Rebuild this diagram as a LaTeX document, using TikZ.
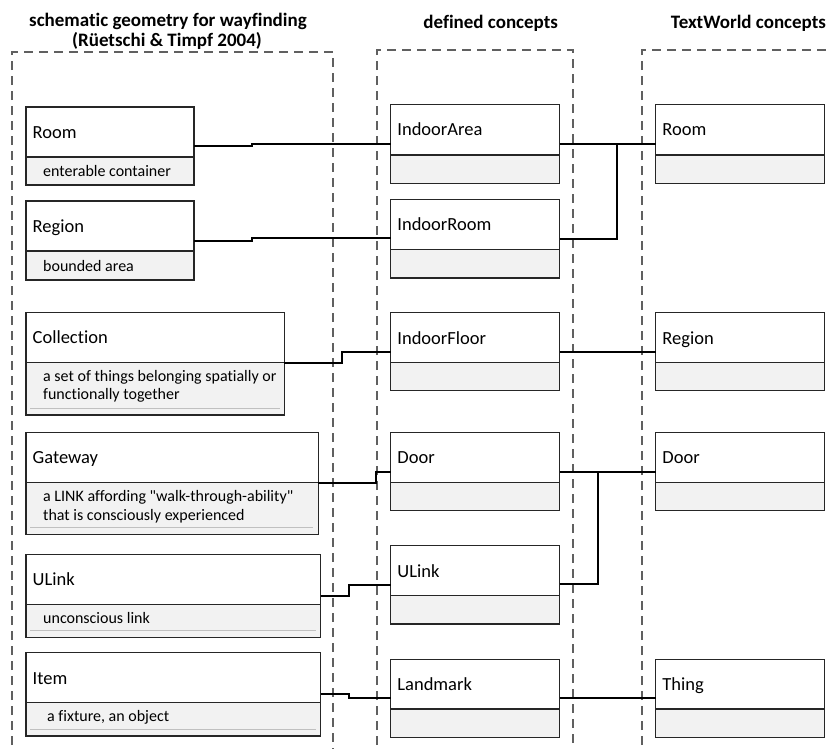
\documentclass[tikz,border=0pt]{standalone}
\usepackage{fontspec}
\setmainfont{Carlito}[Ligatures=NoCommon]
\newfontfamily\plainfont{Carlito}[Ligatures=NoCommon]
\usetikzlibrary{fit}
\definecolor{compfill}{HTML}{F2F2F2}
\definecolor{boxcol}{HTML}{262626}
\definecolor{dashcol}{HTML}{606060}
\definecolor{sepcol}{HTML}{C0C0C0}
\tikzset{
  boxline/.style={draw=boxcol, line width=1.4pt},
  conn/.style={draw=black, line width=1.7pt},
  groupline/.style={draw=dashcol, line width=1.3pt, dash pattern=on 9pt off 6pt},
  titletext/.style={font=\fontsize{18.5}{22}\selectfont, inner sep=0pt, anchor=base west},
  desctext/.style={font=\plainfont\fontsize{16}{20}\selectfont, inner sep=0pt, anchor=base west},
  headtext/.style={font=\bfseries\fontsize{19}{23}\selectfont, inner sep=1pt, anchor=base},
  sepline/.style={draw=sepcol, line width=0.6pt}
}
% name, x1, y1, x2, ydiv, y2, title
\newcommand\umlbox[7]{%
  \fill[compfill] (#2,#5) rectangle (#4,#6);
  \draw[boxline] (#2,#5) -- (#4,#5);
  \node[boxline, inner sep=0pt, outer sep=0pt, fit={(#2,#3) (#4,#6)}] (#1) {};
  \node[titletext] (#1-t) at (#2+6.5, {(#3+#5)/2+6.3}) {#7};
}
\begin{document}
\begin{tikzpicture}[x=1pt, y=-1pt]
\useasboundingbox (0,0) rectangle (829,748);
% group frames
\draw[groupline] (12,760) -- (12,52) -- (333,52) -- (333,760);
\draw[groupline] (377,760) -- (377,50) -- (573,50) -- (573,760);
\draw[groupline] (642,760) -- (642,50) -- (845,50);
% headers
\node[headtext] (h1a) at (168,26) {schematic geometry for wayfinding};
\node[headtext, fill=white] (h1b) at (167,46.5) {(Rüetschi \& Timpf 2004)};
\node[headtext] (h2) at (490.7,28.3) {defined concepts};
\node[headtext] (h3) at (748.5,28.3) {TextWorld concepts};
% left column
\umlbox{lroom}{26}{107}{194}{157}{185}{Room}
\node[desctext] (lroom-d) at (43,176) {enterable container};
\umlbox{lregion}{26}{201}{194}{251}{280}{Region}
\node[desctext] (lregion-d) at (43,271) {bounded area};
\umlbox{lcoll}{26}{312.7}{284.3}{362.3}{415}{Collection}
\draw[sepline] (30,408) -- (280,408);
\node[desctext] (lcoll-d1) at (43,381.7) {a set of things belonging spatially or};
\node[desctext] (lcoll-d2) at (43,399.3) {functionally together};
\umlbox{lgate}{26}{432.3}{318.3}{482.7}{534.3}{Gateway}
\draw[sepline] (30,527.5) -- (313,527.5);
\node[desctext] (lgate-d1) at (43,501.7) {a LINK affording "walk-through-ability"};
\node[desctext] (lgate-d2) at (43,520) {that is consciously experienced};
\umlbox{lulink}{26}{554.3}{320.7}{604.3}{637.3}{ULink}
\draw[sepline] (30,630) -- (316,630);
\node[desctext] (lulink-d) at (43,623.3) {unconscious link};
\umlbox{litem}{26}{652.7}{320.7}{702.7}{736}{Item}
\draw[sepline] (30,729) -- (316,729);
\node[desctext] (litem-d) at (47,721.7) {a fixture, an object};
% middle column
\umlbox{marea}{390.7}{104.3}{559.5}{155}{183.3}{IndoorArea}
\umlbox{mroom}{390.7}{199.3}{559.5}{249.3}{278}{IndoorRoom}
\umlbox{mfloor}{390.7}{312.7}{559.5}{362.7}{390.7}{IndoorFloor}
\umlbox{mdoor}{390.7}{432.7}{559.5}{482.3}{510.7}{Door}
\umlbox{mulink}{390.7}{545.7}{559.5}{595.7}{624}{ULink}
\umlbox{mland}{390.7}{659.3}{559.5}{709}{737.3}{Landmark}
% right column
\umlbox{rroom}{655.7}{104.3}{824.3}{155}{183.3}{Room}
\umlbox{rregion}{655.7}{312.7}{824.3}{362.7}{390.7}{Region}
\umlbox{rdoor}{655.7}{432.7}{824.3}{482.3}{510.7}{Door}
\umlbox{rthing}{655.7}{659.3}{824.3}{709}{737.3}{Thing}
% connectors left -> middle
\draw[conn] (lroom.east |- 0,146) -- (252,146) -- (252,144) -- (marea.west |- 0,144);
\draw[conn] (lregion.east |- 0,241) -- (252,241) -- (252,238) -- (mroom.west |- 0,238);
\draw[conn] (lcoll.east |- 0,363) -- (342,363) -- (342,352) -- (mfloor.west |- 0,352);
\draw[conn] (lgate.east |- 0,483) -- (376,483) -- (376,472) -- (mdoor.west |- 0,472);
\draw[conn] (lulink.east |- 0,596) -- (349,596) -- (349,585) -- (mulink.west |- 0,585);
\draw[conn] (litem.east |- 0,694) -- (349,694) -- (349,698) -- (mland.west |- 0,698);
% connectors middle -> right
\draw[conn] (marea.east |- 0,144) -- (rroom.west |- 0,144);
\draw[conn] (mroom.east |- 0,239) -- (617,239) -- (617,144);
\draw[conn] (mfloor.east |- 0,352) -- (rregion.west |- 0,352);
\draw[conn] (mdoor.east |- 0,472) -- (rdoor.west |- 0,472);
\draw[conn] (mulink.east |- 0,584) -- (598,584) -- (598,472);
\draw[conn] (mland.east |- 0,698) -- (rthing.west |- 0,698);
\end{tikzpicture}
\end{document}
